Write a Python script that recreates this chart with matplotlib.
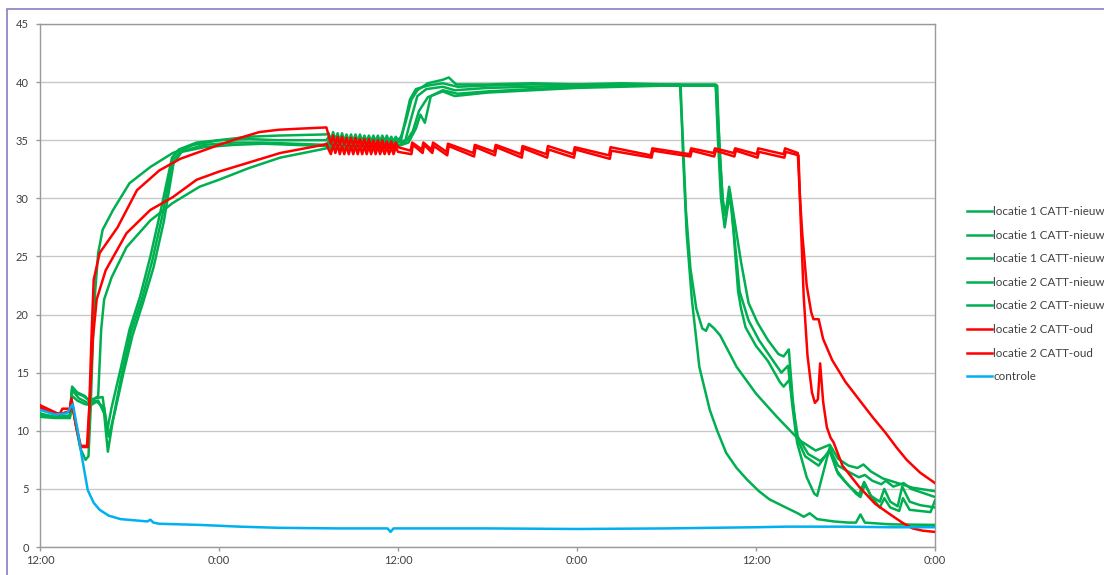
import matplotlib
matplotlib.use('Agg')
import matplotlib.pyplot as plt
from matplotlib.patches import Rectangle

plt.rcParams['font.family'] = ['Lato', 'DejaVu Sans']

# ---------------- axis data ----------------
x_tick_hours = [0, 12, 24, 36, 48, 60]
x_tick_labels = ['12:00', '0:00', '12:00', '0:00', '12:00', '0:00']
y_ticks = [0, 5, 10, 15, 20, 25, 30, 35, 40, 45]

labels = ['locatie 1 CATT-nieuw', 'locatie 1 CATT-nieuw', 'locatie 1 CATT-nieuw',
          'locatie 2 CATT-nieuw', 'locatie 2 CATT-nieuw',
          'locatie 2 CATT-oud', 'locatie 2 CATT-oud', 'controle']

# shared sample times of the fast oscillation period (hours since start)
zz_t = [19.35, 19.5, 19.65, 19.8, 19.95, 20.1, 20.25, 20.4, 20.55, 20.7, 20.85, 21.0,
        21.15, 21.3, 21.45, 21.6, 21.75, 21.9, 22.05, 22.2, 22.35, 22.5, 22.65, 22.8,
        22.95, 23.1, 23.25, 23.4, 23.55, 23.7, 23.85, 24.0]

# ---------------- green series ----------------
a_t1 = [0, 0.6, 1.2, 2.0, 2.15, 2.4, 2.7, 3.05, 3.25, 3.4, 3.55, 3.7, 3.9, 4.2, 4.9, 6.0, 7.4, 8.9, 10.3, 12.0, 14.0, 16.0, 19.2]
a_v1 = [11.5, 11.3, 11.2, 11.3, 12.5, 10.5, 8.5, 7.5, 7.8, 12.0, 18.0, 22.0, 25.3, 27.3, 29.0, 31.3, 32.7, 33.9, 34.6, 35.0, 35.3, 35.4, 35.5]
a_zz = [35.6, 35.0, 35.7, 35.0, 35.6, 34.9, 35.6, 34.9, 35.5, 34.9, 35.5, 34.9, 35.5, 34.9, 35.5, 34.9,
        35.4, 34.9, 35.4, 34.9, 35.4, 34.9, 35.4, 34.9, 35.4, 34.9, 35.4, 34.9, 35.3, 34.9, 35.3, 35.0]
a_t2 = [24.2, 24.5, 24.9, 25.3, 26.0, 27.0, 27.4, 27.9, 30.0, 33.0, 36.0, 39.0, 42.0, 45.3, 45.5, 45.75, 45.95, 46.2, 46.45,
        47.0, 47.5, 48.1, 48.8, 49.5, 49.85, 50.2, 50.45, 50.75, 51.4, 51.9, 52.1, 52.95, 53.4, 54.0, 54.7, 55.0, 55.3, 55.7,
        56.3, 56.6, 57.0, 57.5, 57.8, 58.3, 59.0, 60.0]
a_v2 = [35.3, 36.5, 38.5, 39.3, 39.9, 40.2, 40.4, 39.8, 39.8, 39.9, 39.8, 39.9, 39.8, 39.8, 36.0, 30.0, 28.5, 31.0, 29.0,
        24.5, 21.0, 19.3, 17.8, 16.6, 16.4, 17.0, 12.9, 9.0, 6.0, 4.6, 4.4, 8.6, 6.6, 5.6, 4.6, 4.3, 5.4, 4.4,
        3.9, 5.0, 3.9, 3.5, 5.2, 3.9, 3.6, 3.4]

b_t1 = [0, 1.0, 2.0, 2.15, 2.5, 2.9, 3.3, 3.6, 3.9, 4.1, 4.3, 4.8, 5.8, 7.4, 8.9, 10.7, 12.0, 14.0, 16.1, 19.2]
b_v1 = [11.3, 11.2, 11.2, 13.6, 13.2, 13.0, 12.6, 12.7, 13.0, 18.7, 21.3, 23.2, 25.8, 28.1, 29.6, 31.0, 31.6, 32.6, 33.5, 34.3]
b_zz = [34.7, 34.3, 34.7, 34.3, 34.7, 34.3, 34.7, 34.3, 34.7, 34.3, 34.7, 34.4, 34.8, 34.4, 34.8, 34.4,
        34.8, 34.4, 34.8, 34.4, 34.8, 34.4, 34.8, 34.4, 34.8, 34.4, 34.8, 34.4, 34.8, 34.4, 34.8, 34.5]
b_t2 = [24.7, 25.2, 25.5, 25.8, 26.2, 27.0, 28.0, 30.0, 33.0, 36.0, 40.0, 45.4, 45.55, 45.8, 46.0, 46.3, 46.6, 46.9,
        47.5, 48.2, 49.0, 49.7, 50.15, 50.45, 50.7, 51.3, 52.2, 52.95, 53.5, 54.3, 54.9, 55.3, 55.8,
        56.4, 56.7, 57.2, 57.9, 58.4, 60.0]
b_v2 = [34.8, 36.0, 37.2, 36.5, 38.8, 39.3, 39.0, 39.2, 39.4, 39.6, 39.7, 39.7, 34.0, 29.5, 29.0, 30.0, 26.0, 22.0,
        19.5, 17.8, 16.3, 15.0, 15.6, 12.0, 9.5, 7.8, 7.0, 8.4, 7.0, 6.4, 6.0, 6.2, 5.7,
        5.4, 5.7, 5.2, 5.5, 5.0, 4.3]

c_t1 = [0, 1.0, 2.0, 2.15, 2.5, 3.0, 3.3, 3.7, 4.2, 4.5, 4.8, 5.4, 6.0, 6.7, 7.4, 8.1, 8.85, 9.3, 10.5, 12.0, 14.0, 16.0, 19.2]
c_v1 = [11.3, 11.2, 11.2, 13.8, 13.3, 13.0, 12.6, 12.8, 12.9, 10.0, 12.0, 15.3, 18.7, 21.5, 25.0, 29.0, 33.5, 34.2, 34.8, 35.0, 35.1, 35.0, 35.0]
c_zz = [35.3, 34.7, 35.3, 34.7, 35.2, 34.6, 35.2, 34.6, 35.2, 34.6, 35.2, 34.6, 35.1, 34.6, 35.1, 34.6,
        35.1, 34.6, 35.1, 34.6, 35.1, 34.6, 35.1, 34.6, 35.0, 34.6, 35.0, 34.6, 35.0, 34.6, 35.0, 34.8]
c_t2 = [24.2, 24.45, 24.8, 25.2, 26.0, 27.0, 28.0, 30.0, 33.0, 36.0, 40.0, 42.95, 43.1, 43.35, 43.7, 44.2, 44.9, 45.4,
        46.0, 46.7, 47.4, 48.2, 48.9, 50.0, 50.8, 51.2, 51.6, 52.1, 53.2, 54.2, 54.7, 55.0, 55.3, 57.0, 60.0]
c_v2 = [35.0, 36.5, 38.5, 39.4, 39.7, 39.9, 39.6, 39.7, 39.8, 39.8, 39.7, 39.7, 34.0, 27.0, 21.3, 15.5, 11.8, 10.0,
        8.1, 6.8, 5.8, 4.8, 4.1, 3.4, 2.9, 2.6, 2.9, 2.4, 2.2, 2.1, 2.1, 2.8, 2.1, 1.95, 1.9]

d_t1 = [0, 1, 2, 2.15, 2.6, 3.2, 3.5, 3.9, 4.3, 4.55, 4.9, 5.5, 6.1, 6.8, 7.5, 8.2, 8.9, 9.4, 11.0, 13.0, 15.0, 17.0, 19.2]
d_v1 = [11.4, 11.2, 11.1, 13.5, 12.8, 12.4, 12.5, 12.6, 11.5, 8.2, 11.0, 15.0, 18.5, 21.2, 24.5, 28.5, 33.3, 34.0, 34.6, 34.8, 34.8, 34.7, 34.6]
d_zz = [34.9, 34.4, 34.9, 34.4, 34.9, 34.4, 34.9, 34.4, 34.9, 34.4, 34.9, 34.4, 34.9, 34.4, 34.9, 34.4,
        34.9, 34.4, 34.9, 34.4, 34.9, 34.4, 34.9, 34.4, 34.9, 34.4, 34.9, 34.4, 34.9, 34.5, 34.9, 34.8]
d_t2 = [24.5, 24.8, 25.3, 25.9, 27.0, 27.8, 30.0, 33.0, 36.0, 40.0, 42.9, 43.1, 43.3, 43.6, 44.0, 44.4, 44.65, 44.85, 45.2, 45.6,
        46.7, 48.0, 49.4, 50.9, 52.0, 52.95, 53.5, 54.2, 54.8, 55.2, 55.7, 56.5, 57.5, 58.5, 60.0]
d_v2 = [35.0, 36.5, 38.8, 39.4, 39.6, 39.3, 39.5, 39.6, 39.7, 39.8, 39.8, 35.0, 29.0, 24.0, 20.5, 18.8, 18.6, 19.2, 18.8, 18.2,
        15.5, 13.2, 11.2, 9.2, 8.3, 8.8, 7.6, 7.0, 6.8, 7.1, 6.5, 5.9, 5.5, 5.1, 4.8]

e_t1 = [0, 1, 2, 2.15, 2.5, 3.0, 3.4, 3.8, 4.3, 4.6, 5.0, 5.6, 6.2, 6.9, 7.6, 8.3, 8.95, 9.5, 11.0, 13.0, 15.0, 17.0, 19.2]
e_v1 = [11.2, 11.1, 11.1, 13.0, 12.6, 12.3, 12.2, 12.5, 12.0, 9.5, 11.5, 15.0, 18.2, 21.0, 24.0, 28.0, 33.0, 34.0, 34.4, 34.6, 34.7, 34.6, 34.5]
e_zz = [34.7, 34.2, 34.7, 34.2, 34.7, 34.2, 34.7, 34.2, 34.7, 34.3, 34.7, 34.3, 34.7, 34.3, 34.7, 34.3,
        34.7, 34.3, 34.7, 34.3, 34.7, 34.3, 34.7, 34.3, 34.7, 34.3, 34.7, 34.3, 34.7, 34.3, 34.7, 34.5]
e_t2 = [24.6, 25.0, 25.4, 26.0, 27.0, 27.8, 30.0, 33.0, 36.0, 39.0, 42.0, 45.3, 45.45, 45.65, 45.9, 46.25, 46.5, 46.8, 47.0, 47.3,
        48.0, 48.8, 49.6, 49.85, 50.25, 50.5, 50.8, 51.5, 52.3, 52.95, 53.5, 54.2, 54.9, 55.25, 55.7,
        56.3, 56.6, 57.0, 57.6, 57.85, 58.3, 59.7, 60.0]
e_v2 = [35.0, 35.8, 37.5, 38.7, 39.2, 38.8, 39.1, 39.3, 39.5, 39.6, 39.7, 39.7, 35.0, 30.0, 27.5, 30.5, 27.0, 22.0, 20.5, 18.9,
        17.3, 16.0, 14.2, 13.8, 14.4, 12.0, 9.5, 8.0, 7.4, 8.2, 6.3, 5.3, 4.5, 5.6, 4.4,
        3.4, 4.2, 3.4, 3.1, 4.2, 3.2, 3.0, 4.0]

# ---------------- red series ----------------
r1_t1 = [0, 0.5, 1.0, 1.3, 1.5, 2.0, 2.1, 2.4, 2.7, 3.15, 3.3, 3.45, 3.6, 4.0, 5.2, 6.5, 8.0, 9.4, 10.7, 12.0, 13.4, 14.7, 16.0, 17.5, 19.2]
r1_v1 = [12.2, 11.9, 11.6, 11.4, 11.9, 11.9, 12.8, 10.5, 8.7, 8.7, 12.0, 18.0, 23.0, 25.3, 27.5, 30.7, 32.4, 33.4, 34.0, 34.6, 35.2, 35.7, 35.9, 36.0, 36.1]
r1_zz = [35.4, 34.7, 35.4, 34.6, 35.3, 34.6, 35.3, 34.6, 35.2, 34.5, 35.2, 34.5, 35.2, 34.5, 35.1, 34.5,
         35.1, 34.4, 35.1, 34.4, 35.0, 34.4, 35.0, 34.3, 35.0, 34.3, 34.9, 34.3, 34.9, 34.3, 34.8, 34.4]
r1_t2 = [24.85, 24.95, 25.6, 25.7, 26.25, 26.35, 27.25, 27.35, 29.05, 29.15, 30.45, 30.55, 32.25, 32.35, 33.95, 34.05,
         35.75, 35.85, 38.15, 38.25, 40.95, 41.05, 43.55, 43.65, 45.15, 45.25, 46.5, 46.6, 48.05, 48.15, 49.85, 49.95, 50.8,
         50.95, 51.1, 51.4, 51.7, 51.85, 52.2, 52.5, 53.1, 54.0, 54.9, 55.8, 56.7, 57.4, 58.1, 59.0, 60.0]
r1_v2 = [34.1, 34.8, 34.2, 34.8, 34.2, 34.8, 34.0, 34.7, 33.9, 34.6, 34.0, 34.6, 33.8, 34.5, 33.8, 34.5,
         33.8, 34.4, 33.7, 34.4, 33.7, 34.3, 33.8, 34.3, 33.9, 34.3, 33.9, 34.3, 33.8, 34.3, 33.8, 34.3, 33.9,
         30.0, 27.0, 22.5, 20.2, 19.6, 19.6, 17.9, 16.1, 14.2, 12.7, 11.2, 9.8, 8.6, 7.5, 6.4, 5.5]

r2_t1 = [0, 0.5, 1.0, 1.5, 2.0, 2.1, 2.5, 2.75, 3.2, 3.35, 3.55, 3.8, 4.4, 5.8, 7.4, 8.9, 10.5, 12.0, 13.8, 16.1, 19.0, 19.2]
r2_v1 = [12.0, 11.7, 11.5, 11.5, 11.7, 12.5, 10.0, 8.6, 8.6, 13.0, 18.0, 21.3, 23.8, 27.0, 29.0, 30.1, 31.6, 32.3, 33.0, 33.9, 34.6, 34.7]
r2_zz = [34.2, 33.8, 34.6, 33.9, 34.6, 33.8, 34.5, 33.8, 34.5, 33.8, 34.5, 33.8, 34.5, 33.8, 34.5, 33.8,
         34.5, 33.8, 34.5, 33.8, 34.5, 33.8, 34.5, 33.8, 34.4, 33.8, 34.4, 33.8, 34.4, 33.8, 34.4, 34.0]
r2_t2 = [24.9, 25.0, 25.65, 25.75, 26.3, 26.4, 27.3, 27.4, 29.1, 29.2, 30.5, 30.6, 32.3, 32.4, 34.0, 34.1,
         35.8, 35.9, 38.2, 38.3, 41.0, 41.1, 43.6, 43.7, 45.2, 45.3, 46.55, 46.65, 48.1, 48.2, 49.9, 50.0, 50.85,
         51.0, 51.2, 51.45, 51.75, 51.95, 52.15, 52.3, 52.5, 52.75, 53.0, 53.2, 53.8, 54.9, 56.0, 57.0, 57.8, 58.5, 59.2, 60.0]
r2_v2 = [33.8, 34.6, 33.9, 34.6, 33.9, 34.5, 33.7, 34.5, 33.6, 34.4, 33.7, 34.4, 33.5, 34.3, 33.5, 34.2,
         33.5, 34.2, 33.4, 34.1, 33.5, 34.1, 33.6, 34.1, 33.6, 34.1, 33.6, 34.1, 33.5, 34.0, 33.5, 34.0, 33.7,
         28.0, 21.5, 16.5, 13.3, 12.4, 12.7, 15.8, 12.5, 10.3, 9.4, 9.0, 7.0, 5.2, 3.7, 2.8, 2.1, 1.6, 1.4, 1.3]

# ---------------- blue (controle) ----------------
ctl_t = [0, 1.0, 1.8, 2.2, 2.5, 2.8, 3.2, 3.6, 4.0, 4.6, 5.4, 7.2, 7.4, 7.6, 8.0, 10.7, 13.4, 16.0, 20.0, 23.3, 23.5, 23.7,
         30.0, 36.0, 42.0, 48.0, 50.0, 54.0, 57.0, 60.0]
ctl_v = [11.8, 11.4, 11.5, 12.3, 10.2, 7.8, 4.9, 3.8, 3.2, 2.7, 2.4, 2.2, 2.35, 2.1, 2.0, 1.9, 1.75, 1.65, 1.6, 1.6, 1.3, 1.6,
         1.6, 1.55, 1.6, 1.7, 1.75, 1.75, 1.7, 1.7]

GREEN = '#00B050'
RED = '#FF0000'
BLUE = '#00B0F0'

series = [
    (a_t1 + zz_t + a_t2, a_v1 + a_zz + a_v2, GREEN),
    (c_t1 + zz_t + c_t2, c_v1 + c_zz + c_v2, GREEN),
    (e_t1 + zz_t + e_t2, e_v1 + e_zz + e_v2, GREEN),
    (d_t1 + zz_t + d_t2, d_v1 + d_zz + d_v2, GREEN),
    (b_t1 + zz_t + b_t2, b_v1 + b_zz + b_v2, GREEN),
    (r1_t1 + zz_t + r1_t2, r1_v1 + r1_zz + r1_v2, RED),
    (r2_t1 + zz_t + r2_t2, r2_v1 + r2_zz + r2_v2, RED),
    (ctl_t, ctl_v, BLUE),
]

fig = plt.figure(figsize=(11.04, 5.75), dpi=100)
ax = fig.add_axes([40 / 1104, 1 - 547 / 575, (935 - 40) / 1104, (547 - 24) / 575])

for (t, v, col), lab in zip(series, labels):
    ax.plot(t, v, color=col, lw=1.8, label=lab, solid_joinstyle='round', zorder=3)

ax.set_xlim(0, 60)
ax.set_ylim(0, 45)
ax.set_yticks(y_ticks)
ax.set_xticks(x_tick_hours)
ax.set_xticklabels(x_tick_labels)
ax.yaxis.grid(True, color='#C8C8C8', lw=1.0)
ax.set_axisbelow(True)
for s in ax.spines.values():
    s.set_color('#9A9A9A')
    s.set_linewidth(1.0)
ax.tick_params(axis='both', colors='#9A9A9A', labelcolor='#404040', labelsize=8, length=3, width=1.0)
ax.tick_params(axis='y', pad=5)
ax.tick_params(axis='x', pad=3)

fig.legend(loc='upper left', bbox_to_anchor=(967 / 1104, 1 - 206 / 575), frameon=False,
           fontsize=8.4, handlelength=2.15, handletextpad=0.12, labelspacing=1.08,
           borderpad=0, borderaxespad=0, labelcolor='#404040')

fig.add_artist(Rectangle((7 / 1104, -0.1), 1.2, 1.1 - 9 / 575, transform=fig.transFigure,
                         fill=False, edgecolor='#8E7CC3', lw=1.2))

fig.savefig('out.png', dpi=100)
